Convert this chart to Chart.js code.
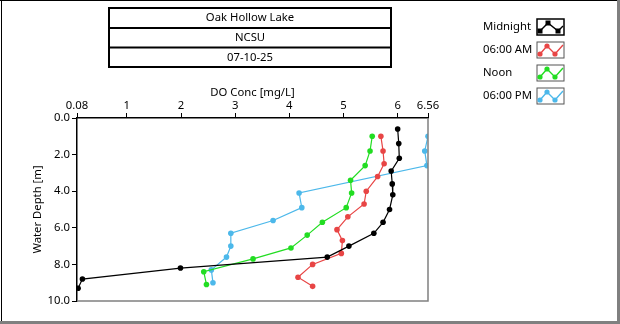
<!DOCTYPE html>
<html>
<head>
<meta charset="utf-8">
<script src="https://cdn.jsdelivr.net/npm/chart.js@4.4.1/dist/chart.umd.min.js"></script>
<style>
  html, body { margin: 0; padding: 0; background: #fff; }
  #wrap { width: 620px; height: 324px; }
</style>
</head>
<body>
<div id="wrap"><canvas id="doChart" width="620" height="324"></canvas></div>
<script>
const headerLines = ["Oak Hollow Lake", "NCSU", "07-10-25"];

const seriesLabels = ["Midnight", "06:00 AM", "Noon", "06:00 PM"];
const seriesColors = ["#000000", "#e84545", "#22dd22", "#4cb8ea"];

// DO concentration [mg/L] against water depth [m], one profile per time of day
const midnightDO    = [6.00, 6.02, 6.03, 5.88, 5.90, 5.91, 5.85, 5.73, 5.56, 5.10, 4.70, 1.99, 0.18, 0.10];
const midnightDepth = [0.6, 1.4, 2.2, 2.9, 3.6, 4.2, 5.0, 5.7, 6.3, 7.0, 7.6, 8.2, 8.8, 9.3];

const amDO    = [5.69, 5.73, 5.75, 5.63, 5.42, 5.38, 5.08, 4.88, 4.98, 4.96, 4.43, 4.16, 4.43];
const amDepth = [1.0, 1.8, 2.5, 3.2, 4.0, 4.7, 5.4, 6.1, 6.7, 7.4, 8.0, 8.7, 9.2];

const noonDO    = [5.53, 5.49, 5.40, 5.13, 5.15, 5.05, 4.61, 4.33, 4.03, 3.33, 2.42, 2.47];
const noonDepth = [1.0, 1.8, 2.6, 3.4, 4.1, 4.9, 5.7, 6.4, 7.1, 7.7, 8.4, 9.1];

const pmDO    = [6.56, 6.50, 6.54, 4.18, 4.23, 3.70, 2.92, 2.92, 2.84, 2.56, 2.59];
const pmDepth = [1.0, 1.8, 2.6, 4.1, 4.9, 5.6, 6.3, 7.0, 7.6, 8.3, 9.0];

const xTicks = [0.08, 1, 2, 3, 4, 5, 6, 6.56];
const yTicks = [0, 2, 4, 6, 8, 10];

const FONT = "'Noto Sans', sans-serif";
const FONT_SIZE = 11.3;

function toPoints(xs, ys) {
  return xs.map((x, i) => ({ x: x, y: ys[i] }));
}

function profile(i, xs, ys) {
  return {
    label: seriesLabels[i],
    data: toPoints(xs, ys),
    showLine: true,
    borderColor: seriesColors[i],
    backgroundColor: seriesColors[i],
    borderWidth: 1.2,
    pointRadius: 2.8,
    pointBorderWidth: 0,
    pointHoverRadius: 2.8,
    clip: 0,
  };
}

Chart.defaults.font.family = FONT;
Chart.defaults.font.size = FONT_SIZE;
Chart.defaults.color = "#000";

// header table, legend and window frame
const decorPlugin = {
  id: "decor",
  afterDraw(chart) {
    const ctx = chart.ctx;
    const area = chart.chartArea;
    ctx.save();

    // plot panel: lower and right edges in gray
    ctx.strokeStyle = "#808080";
    ctx.lineWidth = 1.5;
    ctx.beginPath();
    ctx.moveTo(area.right, area.top);
    ctx.lineTo(area.right, area.bottom);
    ctx.lineTo(area.left, area.bottom);
    ctx.stroke();

    // header table
    ctx.strokeStyle = "#000";
    ctx.lineWidth = 2;
    ctx.strokeRect(109, 8, 282, 59);
    ctx.beginPath();
    ctx.moveTo(109, 28); ctx.lineTo(391, 28);
    ctx.moveTo(109, 47.5); ctx.lineTo(391, 47.5);
    ctx.stroke();
    ctx.fillStyle = "#000";
    ctx.font = FONT_SIZE + "px " + FONT;
    ctx.textAlign = "center";
    ctx.textBaseline = "middle";
    const rowY = [18, 38, 57.5];
    headerLines.forEach((t, i) => ctx.fillText(t, 250, rowY[i]));

    // legend
    ctx.textAlign = "left";
    chart.data.datasets.forEach((ds, i) => {
      const top = 19 + i * 23;
      ctx.fillStyle = "#000";
      ctx.fillText(ds.label, 483, top + 8);
      const bx = 537, bw = 27, bh = 16;
      ctx.fillStyle = "#fff";
      ctx.fillRect(bx, top, bw, bh);
      ctx.strokeStyle = i === 0 ? "#000" : "#555";
      ctx.lineWidth = i === 0 ? 1.5 : 1;
      ctx.strokeRect(bx, top, bw, bh);
      const pts = i === 0
        ? [[3, 12], [11, 4], [21, 12], [26, 7]]
        : [[3, 12], [10, 4], [18, 12], [26, 3]];
      ctx.strokeStyle = ds.borderColor;
      ctx.lineWidth = 1.4;
      ctx.beginPath();
      pts.forEach((p, k) => {
        if (k === 0) ctx.moveTo(bx + p[0], top + p[1]);
        else ctx.lineTo(bx + p[0], top + p[1]);
      });
      ctx.stroke();
      ctx.fillStyle = ds.borderColor;
      pts.slice(0, 3).forEach((p) => {
        ctx.beginPath();
        if (i === 0) ctx.rect(bx + p[0] - 2.5, top + p[1] - 2.5, 5, 5);
        else ctx.arc(bx + p[0], top + p[1], 2.6, 0, Math.PI * 2);
        ctx.fill();
      });
    });

    // window frame
    ctx.fillStyle = "#000";
    ctx.fillRect(0, 0, 620, 1);
    ctx.fillRect(1, 0, 1, 324);
    ctx.fillStyle = "#808080";
    ctx.fillRect(617, 0, 3, 324);
    ctx.fillRect(0, 321, 620, 3);
    ctx.restore();
  },
};

const ctx = document.getElementById("doChart").getContext("2d");
new Chart(ctx, {
  type: "scatter",
  data: {
    datasets: [
      profile(0, midnightDO, midnightDepth),
      profile(1, amDO, amDepth),
      profile(2, noonDO, noonDepth),
      profile(3, pmDO, pmDepth),
    ],
  },
  options: {
    responsive: false,
    animation: false,
    layout: { padding: { left: 0, top: 80, right: 192, bottom: 23 } },
    plugins: {
      legend: { display: false },
      tooltip: { enabled: false },
    },
    scales: {
      x: {
        type: "linear",
        position: "top",
        min: 0.08,
        max: 6.56,
        afterBuildTicks(scale) {
          scale.ticks = xTicks.map((v) => ({ value: v }));
        },
        afterFit(scale) { scale.height = 38; },
        ticks: {
          autoSkip: false,
          maxRotation: 0,
          padding: 0,
          callback: (v) => String(v),
        },
        grid: {
          drawOnChartArea: false,
          drawTicks: true,
          tickLength: 5,
          color: "#000",
        },
        border: { display: true, color: "#000", width: 1.5 },
        title: {
          display: true,
          text: "DO Conc [mg/L]",
          padding: { top: 6, bottom: 0 },
        },
      },
      y: {
        type: "linear",
        reverse: true,
        min: 0,
        max: 10,
        afterBuildTicks(scale) {
          scale.ticks = yTicks.map((v) => ({ value: v }));
        },
        afterFit(scale) { scale.width = 77; },
        ticks: {
          autoSkip: false,
          padding: 2,
          callback: (v) => Number(v).toFixed(1),
        },
        grid: {
          drawOnChartArea: false,
          drawTicks: true,
          tickLength: 5,
          color: "#000",
        },
        border: { display: true, color: "#000", width: 1.5 },
        title: {
          display: true,
          text: "Water Depth [m]",
          padding: { top: 31, bottom: 0 },
        },
      },
    },
  },
  plugins: [decorPlugin],
});
</script>
</body>
</html>
